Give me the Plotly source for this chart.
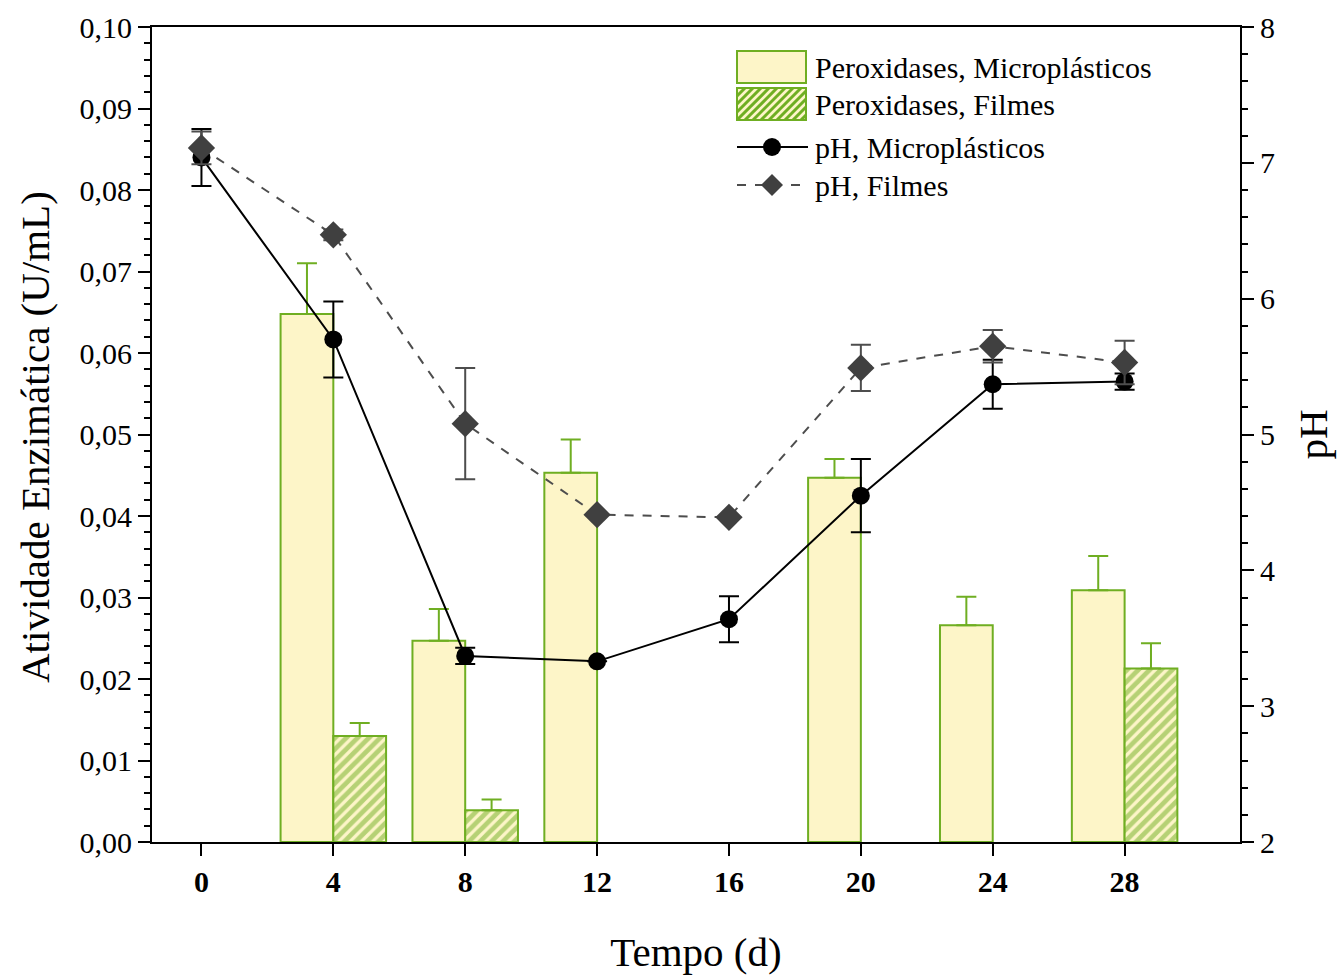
import plotly.graph_objects as go

# Sampling days
days = [0, 4, 8, 12, 16, 20, 24, 28]

# Peroxidase activity (U/mL) and upper error bars
perox_micro = [None, 0.0648, 0.0247, 0.0453, None, 0.0447, 0.0266, 0.0309]
perox_micro_err = [0, 0.0062, 0.0039, 0.0041, 0, 0.0023, 0.0035, 0.0042]
perox_filme = [None, 0.0130, 0.0039, None, None, None, None, 0.0213]
perox_filme_err = [0, 0.0016, 0.0013, 0, 0, 0, 0, 0.0031]

# pH values and symmetric error bars
ph_micro = [7.04, 5.70, 3.37, 3.33, 3.64, 4.55, 5.37, 5.39]
ph_micro_err = [0.21, 0.28, 0.06, 0.0, 0.17, 0.27, 0.18, 0.06]
ph_filme = [7.11, 6.47, 5.08, 4.41, 4.39, 5.49, 5.65, 5.53]
ph_filme_err = [0.12, 0.04, 0.41, 0.0, 0.0, 0.17, 0.12, 0.16]

legend_labels = ["Peroxidases, Microplásticos", "Peroxidases, Filmes",
                 "pH, Microplásticos", "pH, Filmes"]

GREEN = "#6fae22"
CREAM = "#fdf5c8"
DARK = "#404040"
GREY_LINE = "#4d4d4d"
SERIF = "Liberation Serif"

W, H = 1339, 976
ML, MR, MT, MB = 152, 99, 27, 134
PW, PH_ = W - ML - MR, H - MT - MB

fig = go.Figure()

fig.add_trace(go.Bar(
    x=days, y=perox_micro, name=legend_labels[0],
    width=1.6, offset=-1.6,
    marker=dict(color=CREAM, line=dict(color=GREEN, width=2)),
    error_y=dict(type="data", symmetric=False, array=perox_micro_err,
                 arrayminus=[0] * len(days), color=GREEN, thickness=2, width=10),
))
fig.add_trace(go.Bar(
    x=days, y=perox_filme, name=legend_labels[1],
    width=1.6, offset=0,
    marker=dict(color=CREAM, line=dict(color=GREEN, width=2),
                pattern=dict(shape="/", fgcolor=GREEN, bgcolor=CREAM,
                             size=8, solidity=0.6)),
    error_y=dict(type="data", symmetric=False, array=perox_filme_err,
                 arrayminus=[0] * len(days), color=GREEN, thickness=2, width=10),
))
fig.add_trace(go.Scatter(
    x=days, y=ph_micro, name=legend_labels[2], yaxis="y2",
    mode="lines+markers",
    line=dict(color="black", width=2),
    marker=dict(symbol="circle", size=18, color="black"),
    error_y=dict(type="data", array=ph_micro_err, color="black",
                 thickness=2, width=10),
))
fig.add_trace(go.Scatter(
    x=days, y=ph_filme, name=legend_labels[3], yaxis="y2",
    mode="lines+markers",
    line=dict(color=GREY_LINE, width=2, dash="dash"),
    marker=dict(symbol="diamond", size=21, color=DARK),
    error_y=dict(type="data", array=ph_filme_err, color=GREY_LINE,
                 thickness=2, width=10),
))


# ---- legend drawn by hand (larger swatches than the built-in legend) ----
def px(x):
    return (x - ML) / PW


def py(y):
    return (H - MB - y) / PH_


shapes = []
annotations = []

sw_x0, sw_x1 = 737, 806
rows_y = [67, 104, 147, 185]

# plain bar swatch
shapes.append(dict(type="rect", xref="paper", yref="paper",
                   x0=px(sw_x0), x1=px(sw_x1), y0=py(83), y1=py(51),
                   fillcolor=CREAM, line=dict(color=GREEN, width=2)))

# hatched bar swatch
hx0, hx1, hy0, hy1 = sw_x0, sw_x1, 88, 120
shapes.append(dict(type="rect", xref="paper", yref="paper",
                   x0=px(hx0), x1=px(hx1), y0=py(hy1), y1=py(hy0),
                   fillcolor=CREAM, line=dict(width=0)))
segs = []
step = 8
c = hx0 + hy0 + step
while c < hx1 + hy1:
    xa = max(hx0, c - hy1)
    xb = min(hx1, c - hy0)
    if xb > xa:
        segs.append(f"M{px(xa):.5f},{py(c - xa):.5f} L{px(xb):.5f},{py(c - xb):.5f}")
    c += step
shapes.append(dict(type="path", xref="paper", yref="paper", path=" ".join(segs),
                   line=dict(color=GREEN, width=3)))
shapes.append(dict(type="rect", xref="paper", yref="paper",
                   x0=px(hx0), x1=px(hx1), y0=py(hy1), y1=py(hy0),
                   fillcolor="rgba(0,0,0,0)", line=dict(color=GREEN, width=2)))

# solid line + circle
ly = rows_y[2]
shapes.append(dict(type="line", xref="paper", yref="paper",
                   x0=px(737), x1=px(808), y0=py(ly), y1=py(ly),
                   line=dict(color="black", width=2)))
shapes.append(dict(type="circle", xref="paper", yref="paper",
                   x0=px(772 - 9), x1=px(772 + 9), y0=py(ly + 9), y1=py(ly - 9),
                   fillcolor="black", line=dict(color="black", width=0)))

# dashed line + diamond
ly = rows_y[3]
shapes.append(dict(type="line", xref="paper", yref="paper",
                   x0=px(737), x1=px(808), y0=py(ly), y1=py(ly),
                   line=dict(color=GREY_LINE, width=2, dash="dash")))
dm = 11
shapes.append(dict(type="path", xref="paper", yref="paper",
                   path=(f"M{px(772 - dm):.5f},{py(ly):.5f} L{px(772):.5f},{py(ly - dm):.5f} "
                         f"L{px(772 + dm):.5f},{py(ly):.5f} L{px(772):.5f},{py(ly + dm):.5f} Z"),
                   fillcolor=DARK, line=dict(color=DARK, width=0)))

for label, yy in zip(legend_labels, rows_y):
    annotations.append(dict(xref="paper", yref="paper", x=px(813), y=py(yy),
                            xanchor="left", yanchor="middle", showarrow=False,
                            text=label, font=dict(family=SERIF, size=30, color="black")))

# left axis title, placed as rotated text beside the tick labels
annotations.append(dict(xref="paper", yref="paper", x=px(35), y=py(437),
                        xanchor="center", yanchor="middle", showarrow=False,
                        textangle=-90, text="Atividade Enzimática (U/mL)",
                        font=dict(family=SERIF, size=41, color="black")))

axis_common = dict(
    showline=True, linecolor="black", linewidth=2,
    ticks="outside", tickcolor="black", tickwidth=2,
    showgrid=False, zeroline=False, automargin=False,
)

fig.update_layout(
    width=W, height=H,
    margin=dict(l=ML, r=MR, t=MT, b=MB),
    paper_bgcolor="white", plot_bgcolor="white",
    barmode="overlay",
    separators=",.",
    showlegend=False,
    font=dict(family=SERIF, color="black"),
    shapes=shapes,
    annotations=annotations,
    xaxis=dict(
        **axis_common, range=[-1.5, 31.5], tickvals=days, ticklen=12,
        mirror=True,
        tickfont=dict(family=SERIF, size=30, weight="bold"),
        title=dict(text="Tempo (d)", font=dict(family=SERIF, size=41), standoff=40),
    ),
    yaxis=dict(
        **axis_common, range=[0, 0.10], dtick=0.01, tickformat=".2f", ticklen=12,
        minor=dict(dtick=0.002, ticks="outside", ticklen=6, tickwidth=2, tickcolor="black"),
        tickfont=dict(family=SERIF, size=30),
    ),
    yaxis2=dict(
        **axis_common, overlaying="y", side="right", range=[2, 8], dtick=1, ticklen=12,
        minor=dict(dtick=0.2, ticks="outside", ticklen=6, tickwidth=2, tickcolor="black"),
        tickfont=dict(family=SERIF, size=30),
        title=dict(text="pH", font=dict(family=SERIF, size=41), standoff=24),
    ),
)

fig.write_html("out.html")
